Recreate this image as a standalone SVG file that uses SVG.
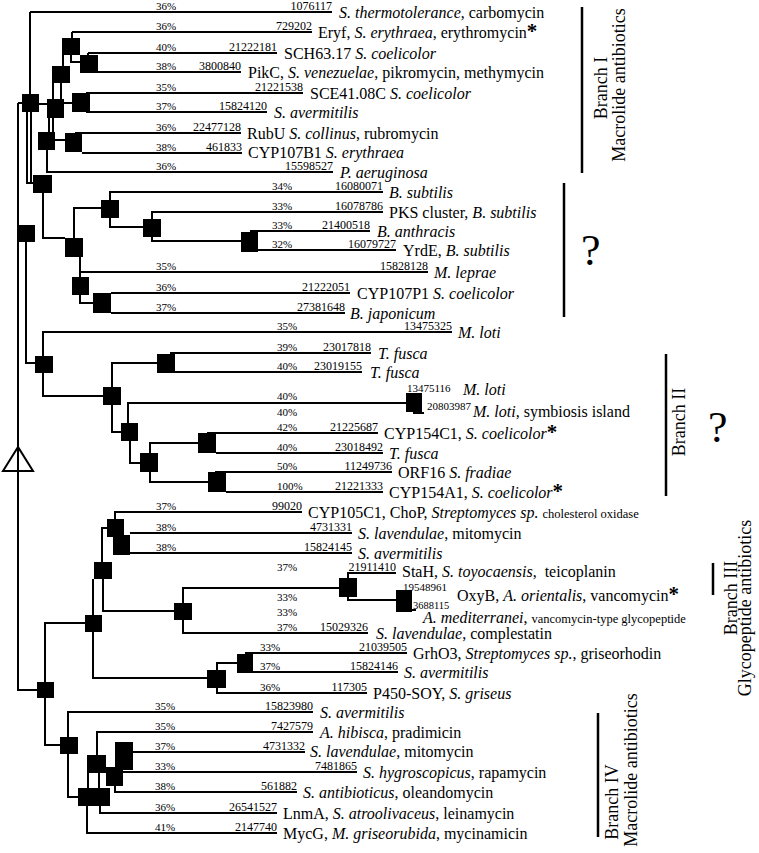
<svg xmlns="http://www.w3.org/2000/svg" width="759" height="853" viewBox="0 0 759 853">
<style>
text{font-family:"Liberation Serif","Times New Roman",serif;fill:#000}
.t{font-size:16px}
.i{font-style:italic}
.p{font-size:11px}
.a{font-size:12px;text-anchor:end}
.s{font-size:11px}
.sm{font-size:12.5px;font-style:normal}
.b{font-size:18px;text-anchor:middle}
.q{font-size:44px}
.ast{font-size:21px;font-weight:bold;font-style:normal}
#connectors path{stroke:#000;stroke-width:2;fill:none}
.br{stroke:#000;stroke-width:2.5;fill:none}
rect{fill:#000}
</style>
<rect x="0" y="0" width="759" height="853" style="fill:#fff"/>
<polygon id="root" points="18,447 3,471 33,471" fill="#fff" stroke="#000" stroke-width="2"/>
<g id="connectors">
<path d="M30,12H332M30,12V94M18,103H22M18,103V690H37M27,112V183H33M31,112V183M39,104H47M64,103H72M86,93H303M86,112H267M53,83V99M61,83V99M63,55V66M72,32V38M72,32H312M71,55V62H80M88,53V55M88,53H277M98,72H241M49,118V132M53,118V132M55,140H65M75,133H241M82,153H242M47,150V172H333"/>
<path d="M43,193V238H65M74,238V208H101M110,200V192H383M110,218V227H143M152,219V212H383M152,237V241H241M250,231H370M258,250H396M80,257V277M80,272H428M80,295V303H93M111,293H350M111,313H345"/>
<path d="M26,242V363H35M43,356V332H452M43,373V396H103M112,387V363H157M170,353H371M175,372H362M112,405V432H121M128,423V403H407M413,413H424M130,441V463H140M150,453V443H198M207,433H378M216,453H383M150,472V482H208M215,472H392M226,492H383"/>
<path d="M45,682V623H85M93,615V579M103,579V611H174M102,562V528H107M115,519V512H302M130,533H352M130,553H352M93,632V678H207M217,670V663H237M245,653H407M253,672H398M217,688V693H367M183,603V588H339M183,620V633H368M348,578V573H396M348,597V600H396M412,610H416"/>
<path d="M45,698V745H60M68,737V712H313M68,754V797H78M87,806V833H277M100,806V813H277M97,755V732H313M88,773V788M99,773V788M125,752H305M123,772H357M115,786V792H297"/>
</g>
<g id="nA"><rect x="22" y="94" width="17" height="18"/></g>
<g id="n1"><rect x="62" y="38" width="18" height="17"/></g>
<g id="n2"><rect x="80" y="55" width="18" height="18"/></g>
<g id="n3"><rect x="52" y="66" width="18" height="17"/></g>
<g id="n4"><rect x="72" y="93" width="18" height="19"/></g>
<g id="n5"><rect x="47" y="99" width="17" height="19"/></g>
<g id="n6"><rect x="38" y="132" width="17" height="18"/></g>
<g id="n7"><rect x="65" y="133" width="17" height="19"/></g>
<g id="nB"><rect x="33" y="175" width="19" height="18"/></g>
<g id="r1"><rect x="17" y="225" width="18" height="17"/></g>
<g id="nQ"><rect x="65" y="238" width="18" height="19"/></g>
<g id="nQ1"><rect x="101" y="200" width="18" height="18"/></g>
<g id="nQ2"><rect x="143" y="219" width="18" height="18"/></g>
<g id="nQ3"><rect x="241" y="232" width="17" height="20"/></g>
<g id="nQ4"><rect x="72" y="277" width="17" height="18"/></g>
<g id="nQ5"><rect x="93" y="293" width="18" height="20"/></g>
<g id="nML"><rect x="35" y="356" width="18" height="17"/></g>
<g id="nII"><rect x="103" y="387" width="18" height="18"/></g>
<g id="nTF"><rect x="157" y="354" width="18" height="19"/></g>
<g id="nII2"><rect x="121" y="423" width="17" height="18"/></g>
<g id="nML2"><rect x="406" y="393" width="16" height="19"/></g>
<g id="nII3"><rect x="140" y="453" width="18" height="19"/></g>
<g id="n154C"><rect x="198" y="433" width="18" height="20"/></g>
<g id="n154A"><rect x="208" y="472" width="18" height="20"/></g>
<g id="nIIIIV"><rect x="37" y="682" width="17" height="16"/></g>
<g id="nIII"><rect x="85" y="615" width="17" height="17"/></g>
<g id="nG1"><rect x="94" y="562" width="18" height="17"/></g>
<g id="nC"><rect x="107" y="519" width="17" height="18"/></g>
<g id="nC2"><rect x="113" y="535" width="17" height="20"/></g>
<g id="nG2"><rect x="174" y="603" width="18" height="17"/></g>
<g id="nSta"><rect x="339" y="578" width="18" height="19"/></g>
<g id="nOxy"><rect x="396" y="590" width="16" height="22"/></g>
<g id="nS"><rect x="207" y="670" width="19" height="18"/></g>
<g id="nGrh"><rect x="237" y="654" width="16" height="19"/></g>
<g id="nIV"><rect x="60" y="737" width="18" height="17"/></g>
<g id="nIVa"><rect x="87" y="755" width="19" height="18"/></g>
<g id="nIVb"><rect x="115" y="742" width="18" height="28"/></g>
<g id="nIVc"><rect x="106" y="767" width="17" height="19"/></g>
<g id="nIVd"><rect x="78" y="788" width="32" height="18"/></g>
<g id="leaf01"><text class="p" x="156" y="10">36%</text><text class="a" x="332" y="10">1076117</text><text class="t" x="339" y="18"><tspan class="i">S. thermotolerance</tspan>, carbomycin</text></g>
<g id="leaf02"><text class="p" x="156" y="30">36%</text><text class="a" x="312" y="30">729202</text><text class="t" x="318" y="38">Eryf, <tspan class="i">S. erythraea</tspan>, erythromycin<tspan class="ast">*</tspan></text></g>
<g id="leaf03"><text class="p" x="156" y="51">40%</text><text class="a" x="277" y="51">21222181</text><text class="t" x="284" y="59">SCH63.17 <tspan class="i">S. coelicolor</tspan></text></g>
<g id="leaf04"><text class="p" x="156" y="70">38%</text><text class="a" x="241" y="70">3800840</text><text class="t" x="248" y="78">PikC, <tspan class="i">S. venezuelae</tspan>, pikromycin, methymycin</text></g>
<g id="leaf05"><text class="p" x="156" y="91">35%</text><text class="a" x="303" y="91">21221538</text><text class="t" x="310" y="99">SCE41.08C <tspan class="i">S. coelicolor</tspan></text></g>
<g id="leaf06"><text class="p" x="156" y="110">37%</text><text class="a" x="267" y="110">15824120</text><text class="t" x="274" y="118"><tspan class="i">S. avermitilis</tspan></text></g>
<g id="leaf07"><text class="p" x="156" y="131">36%</text><text class="a" x="241" y="131">22477128</text><text class="t" x="247" y="139">RubU <tspan class="i">S. collinus</tspan>, rubromycin</text></g>
<g id="leaf08"><text class="p" x="156" y="151">38%</text><text class="a" x="242" y="151">461833</text><text class="t" x="248" y="158">CYP107B1 <tspan class="i">S. erythraea</tspan></text></g>
<g id="leaf09"><text class="p" x="156" y="170">36%</text><text class="a" x="333" y="170">15598527</text><text class="t" x="340" y="178"><tspan class="i">P. aeruginosa</tspan></text></g>
<g id="leaf10"><text class="p" x="272" y="190">34%</text><text class="a" x="383" y="190">16080071</text><text class="t" x="389" y="198"><tspan class="i">B. subtilis</tspan></text></g>
<g id="leaf11"><text class="p" x="272" y="210">33%</text><text class="a" x="383" y="210">16078786</text><text class="t" x="389" y="218">PKS cluster, <tspan class="i">B. subtilis</tspan></text></g>
<g id="leaf12"><text class="p" x="272" y="229">33%</text><text class="a" x="370" y="229">21400518</text><text class="t" x="377" y="237"><tspan class="i">B. anthracis</tspan></text></g>
<g id="leaf13"><text class="p" x="272" y="248">32%</text><text class="a" x="396" y="248">16079727</text><text class="t" x="403" y="256">YrdE, <tspan class="i">B. subtilis</tspan></text></g>
<g id="leaf14"><text class="p" x="156" y="270">35%</text><text class="a" x="428" y="270">15828128</text><text class="t" x="434" y="278"><tspan class="i">M. leprae</tspan></text></g>
<g id="leaf15"><text class="p" x="156" y="291">36%</text><text class="a" x="350" y="291">21222051</text><text class="t" x="357" y="299">CYP107P1 <tspan class="i">S. coelicolor</tspan></text></g>
<g id="leaf16"><text class="p" x="156" y="311">37%</text><text class="a" x="345" y="311">27381648</text><text class="t" x="350" y="319"><tspan class="i">B. japonicum</tspan></text></g>
<g id="leaf17"><text class="p" x="277" y="330">35%</text><text class="a" x="452" y="330">13475325</text><text class="t" x="458" y="338"><tspan class="i">M. loti</tspan></text></g>
<g id="leaf18"><text class="p" x="277" y="351">39%</text><text class="a" x="371" y="351">23017818</text><text class="t" x="378" y="359"><tspan class="i">T. fusca</tspan></text></g>
<g id="leaf19"><text class="p" x="277" y="370">40%</text><text class="a" x="362" y="370">23019155</text><text class="t" x="370" y="378"><tspan class="i">T. fusca</tspan></text></g>
<g id="leaf20"><text class="p" x="277" y="400">40%</text><text class="s" x="407" y="392">13475116</text><text class="t" x="463" y="395"><tspan class="i">M. loti</tspan></text></g>
<g id="leaf21"><text class="p" x="277" y="416">40%</text><text class="s" x="427" y="410">20803987</text><text class="t" x="473" y="417"><tspan class="i">M. loti</tspan>, symbiosis island</text></g>
<g id="leaf22"><text class="p" x="277" y="431">42%</text><text class="a" x="378" y="431">21225687</text><text class="t" x="384" y="439">CYP154C1, <tspan class="i">S. coelicolor</tspan><tspan class="ast">*</tspan></text></g>
<g id="leaf23"><text class="p" x="277" y="451">40%</text><text class="a" x="383" y="451">23018492</text><text class="t" x="389" y="459"><tspan class="i">T. fusca</tspan></text></g>
<g id="leaf24"><text class="p" x="277" y="470">50%</text><text class="a" x="392" y="470">11249736</text><text class="t" x="398" y="478">ORF16 <tspan class="i">S. fradiae</tspan></text></g>
<g id="leaf25"><text class="p" x="277" y="490">100%</text><text class="a" x="383" y="490">21221333</text><text class="t" x="389" y="498">CYP154A1, <tspan class="i">S. coelicolor</tspan><tspan class="ast">*</tspan></text></g>
<g id="leaf26"><text class="p" x="156" y="510">37%</text><text class="a" x="302" y="510">99020</text><text class="t" x="308" y="518">CYP105C1, ChoP, <tspan class="i">Streptomyces sp.</tspan> <tspan class="sm">cholesterol oxidase</tspan></text></g>
<g id="leaf27"><text class="p" x="156" y="531">38%</text><text class="a" x="352" y="531">4731331</text><text class="t" x="358" y="539"><tspan class="i">S. lavendulae</tspan>, mitomycin</text></g>
<g id="leaf28"><text class="p" x="156" y="551">38%</text><text class="a" x="352" y="551">15824145</text><text class="t" x="358" y="559"><tspan class="i">S. avermitilis</tspan></text></g>
<g id="leaf29"><text class="p" x="277" y="571">37%</text><text class="a" x="396" y="571">21911410</text><text class="t" x="402" y="577">StaH, <tspan class="i">S. toyocaensis</tspan>, <tspan dx="4">teicoplanin</tspan></text></g>
<g id="leaf30"><text class="p" x="277" y="601">33%</text><text class="s" x="403" y="591">19548961</text><text class="t" x="457" y="601">OxyB, <tspan class="i">A. orientalis</tspan>, vancomycin<tspan class="ast">*</tspan></text></g>
<g id="leaf30b"><text class="p" x="277" y="616">33%</text><text class="s" x="413" y="609" style="font-size:10.5px">3688115</text><text class="t" x="423" y="623"><tspan class="i">A. mediterranei</tspan>, <tspan class="sm">vancomycin-type glycopeptide</tspan></text></g>
<g id="leaf31"><text class="p" x="277" y="631">37%</text><text class="a" x="368" y="631">15029326</text><text class="t" x="376" y="639"><tspan class="i">S. lavendulae</tspan>, complestatin</text></g>
<g id="leaf32"><text class="p" x="260" y="651">33%</text><text class="a" x="407" y="651">21039505</text><text class="t" x="413" y="659">GrhO3, <tspan class="i">Streptomyces sp.</tspan>, griseorhodin</text></g>
<g id="leaf33"><text class="p" x="260" y="670">37%</text><text class="a" x="398" y="670">15824146</text><text class="t" x="404" y="678"><tspan class="i">S. avermitilis</tspan></text></g>
<g id="leaf34"><text class="p" x="260" y="691">36%</text><text class="a" x="367" y="691">117305</text><text class="t" x="373" y="699">P450-SOY, <tspan class="i">S. griseus</tspan></text></g>
<g id="leaf35"><text class="p" x="155" y="710">35%</text><text class="a" x="313" y="710">15823980</text><text class="t" x="320" y="718"><tspan class="i">S. avermitilis</tspan></text></g>
<g id="leaf36"><text class="p" x="155" y="730">35%</text><text class="a" x="313" y="730">7427579</text><text class="t" x="320" y="738"><tspan class="i">A. hibisca</tspan>, pradimicin</text></g>
<g id="leaf37"><text class="p" x="155" y="750">37%</text><text class="a" x="305" y="750">4731332</text><text class="t" x="310" y="757"><tspan class="i">S. lavendulae</tspan>, mitomycin</text></g>
<g id="leaf38"><text class="p" x="155" y="770">33%</text><text class="a" x="357" y="770">7481865</text><text class="t" x="363" y="778"><tspan class="i">S. hygroscopicus</tspan>, rapamycin</text></g>
<g id="leaf39"><text class="p" x="155" y="790">38%</text><text class="a" x="297" y="790">561882</text><text class="t" x="303" y="798"><tspan class="i">S. antibioticus</tspan>, oleandomycin</text></g>
<g id="leaf40"><text class="p" x="155" y="811">36%</text><text class="a" x="277" y="811">26541527</text><text class="t" x="283" y="819">LnmA, <tspan class="i">S. atroolivaceus</tspan>, leinamycin</text></g>
<g id="leaf41"><text class="p" x="155" y="831">41%</text><text class="a" x="277" y="831">2147740</text><text class="t" x="283" y="839">MycG, <tspan class="i">M. griseorubida</tspan>, mycinamicin</text></g>
<g id="branch1"><path class="br" d="M582,7V173"/><text class="b" transform="translate(607,88) rotate(-90)">Branch I</text><text class="b" transform="translate(625,85) rotate(-90)">Macrolide antibiotics</text></g>
<g id="unknown1"><path class="br" d="M564,183V317"/><text class="q" x="581" y="265">?</text></g>
<g id="branch2"><path class="br" d="M666,354V496"/><text class="b" transform="translate(685,422) rotate(-90)">Branch II</text><text class="q" x="708" y="442">?</text></g>
<g id="branch3"><path class="br" d="M713,563V595"/><text class="b" transform="translate(737,598) rotate(-90)">Branch III</text><text class="b" transform="translate(751,608) rotate(-90)">Glycopeptide antibiotics</text></g>
<g id="branch4"><path class="br" d="M598,713V837"/><text class="b" transform="translate(618,802) rotate(-90)">Branch IV</text><text class="b" transform="translate(637,770) rotate(-90)">Macrolide antibiotics</text></g>
</svg>
